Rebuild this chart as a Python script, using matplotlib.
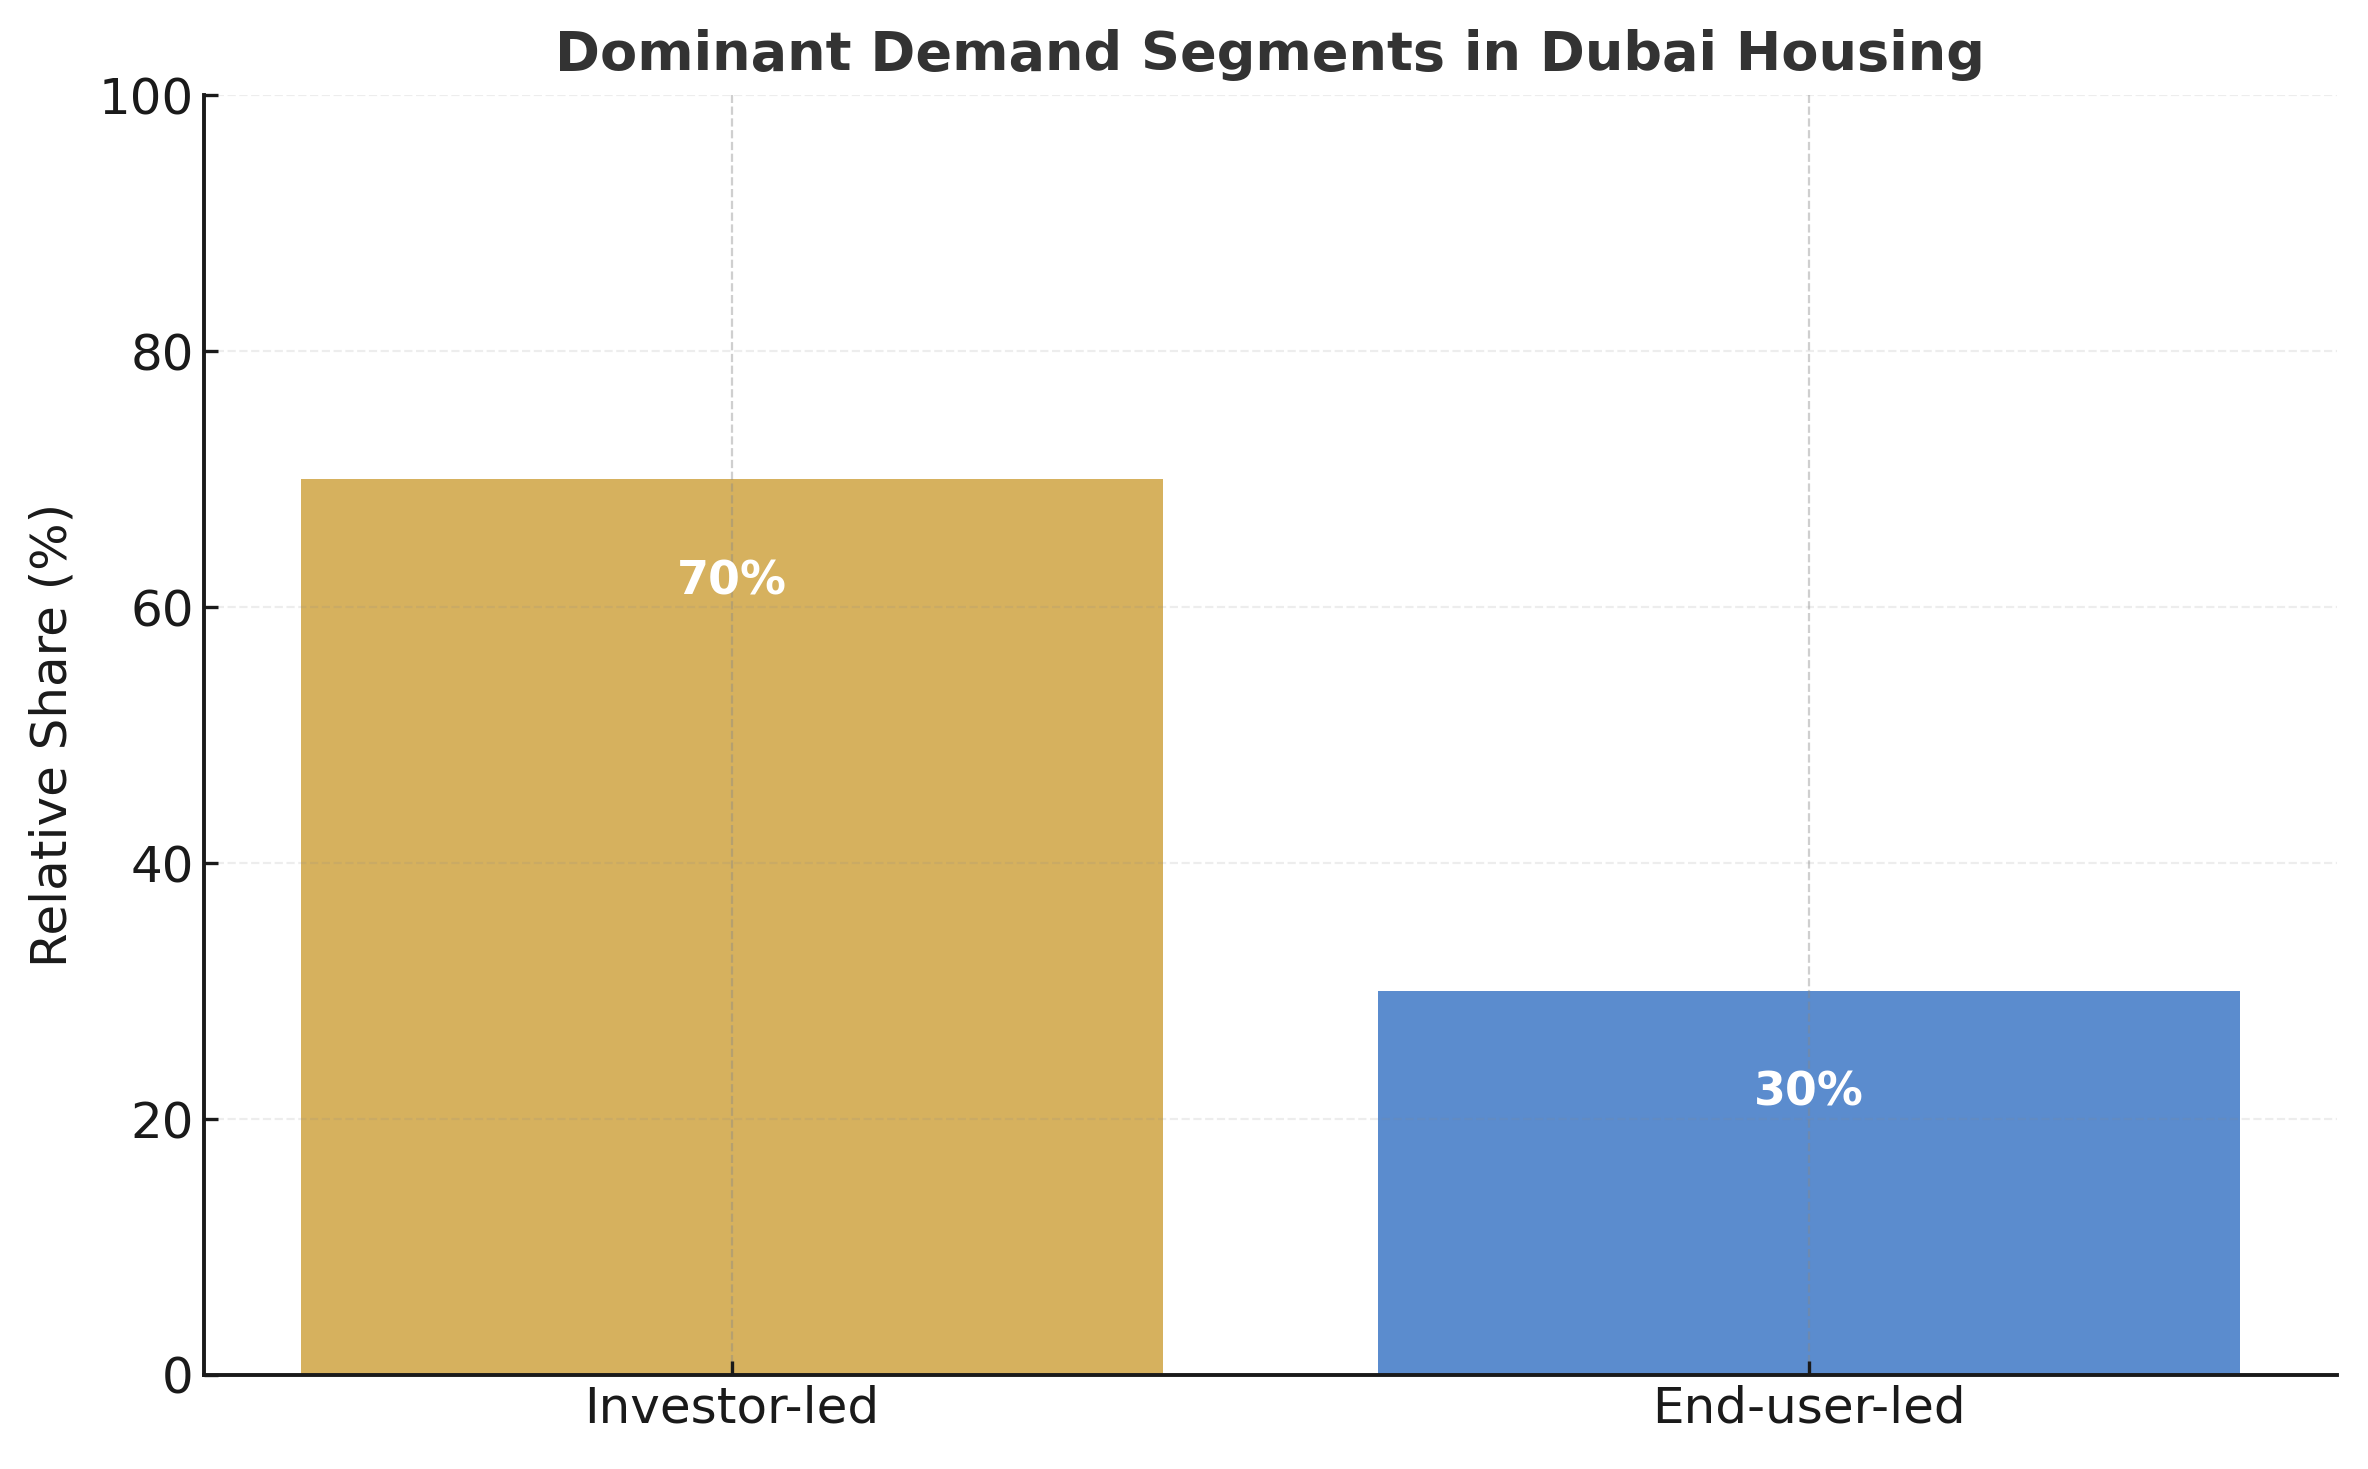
import matplotlib
matplotlib.use('Agg')
import matplotlib.pyplot as plt

# Demand share by segment
segments = ['Investor-led', 'End-user-led']
shares = [70, 30]
bar_colors = ['#D6B15E', '#5B8CCE']

fig, ax = plt.subplots(figsize=(11.84, 7.345), dpi=200)

bars = ax.bar(segments, shares, width=0.8, color=bar_colors, zorder=1)

# value labels inside bars
for rect, val in zip(bars, shares):
    ax.text(rect.get_x() + rect.get_width() / 2, val - 8, f'{val}%',
            ha='center', va='center', color='white', fontsize=16.5,
            fontweight='bold', zorder=3)

ax.set_ylim(0, 100)
ax.set_title('Dominant Demand Segments in Dubai Housing', fontsize=19.5,
             fontweight='bold', color='#333333', pad=9)
ax.set_ylabel('Relative Share (%)', fontsize=18, color='#1a1a1a', labelpad=8)

ax.tick_params(axis='both', direction='in', labelsize=18, colors='#1a1a1a',
               length=5, width=1.2)
ax.grid(axis='y', linestyle='--', color='#888888', alpha=0.15, linewidth=0.8, zorder=2)
ax.grid(axis='x', linestyle='--', color='#888888', alpha=0.4, linewidth=0.8, zorder=2)
ax.set_axisbelow(False)

for side in ['top', 'right']:
    ax.spines[side].set_visible(False)
for side in ['left', 'bottom']:
    ax.spines[side].set_linewidth(1.4)
    ax.spines[side].set_color('#1a1a1a')
    ax.spines[side].set_zorder(4)

plt.subplots_adjust(left=0.086, right=0.987, top=0.935, bottom=0.064)
plt.savefig('out.png', dpi=200)
plt.close()
